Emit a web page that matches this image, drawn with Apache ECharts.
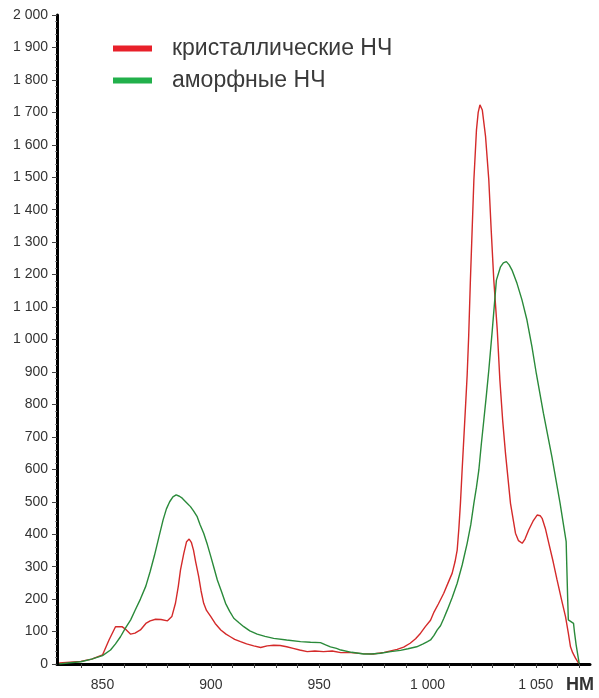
<!DOCTYPE html>
<html>
<head>
<meta charset="utf-8">
<script src="https://cdn.jsdelivr.net/npm/echarts@6/dist/echarts.min.js"></script>
<style>
  html, body { margin: 0; padding: 0; background: #fff; }
  #chart { width: 599px; height: 698px; }
</style>
</head>
<body>
<div id="chart"></div>
<script>
// Emission spectra: wavelength (nm) and intensity for two kinds of nanocrystals
const seriesNames = ['кристаллические НЧ', 'аморфные НЧ'];

const crystNm = [830, 840, 845, 850, 853, 856, 859, 861, 863, 865, 867.5, 870, 872, 874.5, 877, 880, 882, 883.7, 885, 886, 887.5, 888.8, 890, 891, 892, 893, 894.4, 895.5, 896.7, 898, 900, 902, 904.6, 907, 909, 911, 913.7, 916.5, 919.8, 923, 926, 929, 932, 935, 938, 941, 944.5, 948, 952, 956, 960, 964.5, 970, 975, 980, 986, 989, 992, 994.5, 996.8, 999, 1001.4, 1003, 1005, 1007.5, 1009.5, 1011.4, 1012.7, 1013.7, 1014.5, 1015.2, 1016, 1016.8, 1017.6, 1018.3, 1019, 1019.8, 1020.6, 1021.4, 1022.6, 1023.4, 1024.2, 1025.3, 1026.8, 1028.3, 1029.4, 1030.6, 1032.2, 1033.4, 1034.7, 1036, 1038.3, 1040.6, 1042, 1043.7, 1045, 1046.7, 1048.7, 1050.6, 1052, 1052.9, 1054.5, 1056, 1058, 1059.8, 1061.8, 1063.7, 1065, 1066, 1067, 1068.3, 1069.8];
const crystVal = [3, 8, 15, 28, 74, 115, 115, 105, 92, 95, 105, 125, 133, 138, 137, 133, 146, 188, 240, 290, 340, 377, 385, 375, 351, 315, 269, 225, 187, 165, 146, 125, 105, 92, 84, 76, 69, 62, 56, 51, 56, 58, 57, 53, 48, 43, 38, 40, 38, 40, 35, 35, 32, 31, 36, 45, 52, 64, 78, 95, 115, 135, 160, 185, 218, 250, 280, 315, 351, 420, 495, 600, 700, 800, 890, 1009, 1183, 1337, 1491, 1646, 1700, 1723, 1707, 1625, 1491, 1337, 1183, 1029, 875, 750, 649, 495, 403, 380, 372, 385, 413, 440, 459, 457, 449, 415, 372, 315, 259, 200, 146, 95, 53, 35, 18, 2];

const amorphNm = [830, 835, 840, 845, 850, 853.7, 856, 858.3, 860.5, 863, 865, 867.5, 870, 872, 874, 876, 878, 879.5, 881, 882.5, 884, 885.5, 886.8, 888.7, 890.6, 892, 893.7, 895, 896.7, 898.4, 900, 901.5, 903, 905, 906.8, 908.7, 910.6, 913, 915.2, 918, 921.4, 925, 929, 935, 941.4, 946, 950.6, 953, 955.2, 958, 960, 965, 970.6, 974, 978.3, 983, 987.5, 991, 995, 998, 1000, 1001.4, 1003, 1004.5, 1006, 1007.5, 1009.1, 1011.4, 1013.7, 1016, 1018.3, 1020, 1021.4, 1022.6, 1023.7, 1024.8, 1026, 1027.2, 1028.3, 1029.9, 1031.8, 1033.7, 1035, 1036.4, 1037.7, 1039, 1041.3, 1043.6, 1045.9, 1048.2, 1050.2, 1053.5, 1057.4, 1061.2, 1064, 1064.3, 1064.7, 1065, 1067.4, 1067.8, 1068.6, 1070];
const amorphVal = [0, 4, 7, 15, 26, 43, 62, 84, 110, 136, 165, 200, 240, 285, 335, 390, 445, 478, 500, 515, 521, 517, 511, 498, 485, 472, 454, 430, 403, 368, 331, 295, 259, 222, 187, 162, 141, 127, 115, 102, 92, 85, 79, 74, 69, 67, 66, 59, 53, 48, 43, 36, 31, 31, 33, 38, 42, 47, 53, 62, 69, 74, 88, 105, 118, 140, 166, 205, 249, 305, 372, 430, 495, 545, 598, 675, 752, 830, 906, 1029, 1183, 1224, 1236, 1240, 1230, 1214, 1173, 1122, 1060, 978, 896, 773, 639, 495, 377, 300, 200, 136, 125, 100, 59, 2];

// Axis ticks and labels
const xLabelValues = [850, 900, 950, 1000, 1050];
const xTickValues = [840, 850, 860, 870, 880, 890, 900, 910, 920, 930, 940, 950, 960, 970, 980, 990, 1000, 1010, 1020, 1030, 1040, 1050, 1060, 1070];
const xUnit = 'НМ';

function zipPairs(xs, ys) {
  return xs.map((x, i) => [x, ys[i]]);
}
function spaced(v) {
  return String(Math.round(v)).replace(/\B(?=(\d{3})+(?!\d))/g, ' ');
}

const lineRed = '#d42a2a';
const lineGreen = '#2a8a3a';
const legendRed = '#e8202a';
const legendGreen = '#22b04b';

const chart = echarts.init(document.getElementById('chart'), null, { renderer: 'canvas' });
chart.setOption({
  backgroundColor: '#ffffff',
  animation: false,
  grid: { left: 57, right: 9, top: 15, bottom: 34, containLabel: false },
  legend: {
    orient: 'vertical',
    left: 108,
    top: 32,
    itemWidth: 39,
    itemHeight: 6,
    itemGap: 9,
    icon: 'rect',
    textStyle: {
      fontFamily: 'Liberation Sans',
      fontSize: 23,
      color: '#3a3a3a',
      padding: [0, 0, 0, 15]
    },
    data: [
      { name: seriesNames[0], itemStyle: { color: legendRed } },
      { name: seriesNames[1], itemStyle: { color: legendGreen } }
    ]
  },
  xAxis: {
    type: 'value',
    min: 829,
    max: 1075,
    axisLine: { show: true, lineStyle: { color: '#000', width: 3 } },
    axisTick: { show: true, customValues: xTickValues, length: 4, lineStyle: { color: '#444', width: 1 } },
    axisLabel: {
      customValues: xLabelValues,
      formatter: spaced,
      margin: 14,
      fontFamily: 'Liberation Sans',
      fontSize: 14,
      color: '#333'
    },
    splitLine: { show: false }
  },
  yAxis: {
    type: 'value',
    min: 0,
    max: 2000,
    interval: 100,
    axisLine: { show: true, lineStyle: { color: '#000', width: 3 } },
    axisTick: { show: true, length: 5, lineStyle: { color: '#444', width: 1 } },
    minorTick: { show: true, splitNumber: 5, length: 2, lineStyle: { color: '#888', width: 1 } },
    axisLabel: {
      formatter: spaced,
      margin: 9,
      fontFamily: 'Liberation Sans',
      fontSize: 14,
      color: '#333'
    },
    splitLine: { show: false }
  },
  graphic: [
    {
      type: 'text',
      left: 566,
      top: 676,
      style: {
        text: xUnit,
        fontFamily: 'Liberation Sans',
        fontSize: 18,
        fontWeight: 'bold',
        fill: '#333'
      }
    }
  ],
  series: [
    {
      name: seriesNames[0],
      type: 'line',
      data: zipPairs(crystNm, crystVal),
      showSymbol: false,
      smooth: false,
      lineStyle: { color: lineRed, width: 1.4 },
      itemStyle: { color: lineRed },
      z: 2
    },
    {
      name: seriesNames[1],
      type: 'line',
      data: zipPairs(amorphNm, amorphVal),
      showSymbol: false,
      smooth: false,
      lineStyle: { color: lineGreen, width: 1.4 },
      itemStyle: { color: lineGreen },
      z: 3
    }
  ]
});
</script>
</body>
</html>
